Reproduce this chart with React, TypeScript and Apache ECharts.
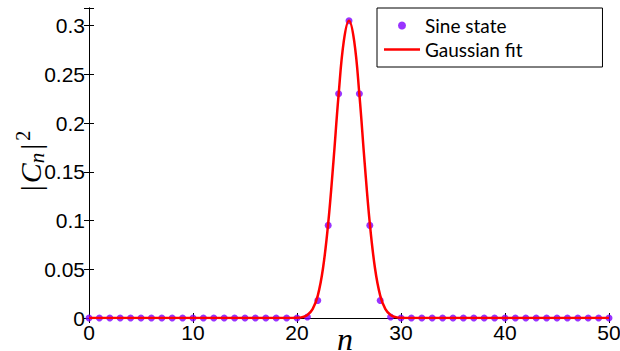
import React, { useEffect, useRef } from "react";
import * as echarts from "echarts";

const sineN: number[] = Array.from({ length: 51 }, (_, i) => i);
const sineValues: number[] = [
  0, 0, 0, 0, 0, 0, 0, 0, 0, 0,
  0, 0, 0, 0, 0, 0, 0, 0, 0, 0,
  0, 0.001, 0.018, 0.095, 0.23, 0.305, 0.23, 0.095, 0.018, 0.001,
  0, 0, 0, 0, 0, 0, 0, 0, 0, 0,
  0, 0, 0, 0, 0, 0, 0, 0, 0, 0,
  0,
];
const fitX: number[] = [0, 19, 20, 20.5, 21, 21.5, 22, 22.5, 23, 23.5, 24, 24.5, 25, 25.5, 26, 26.5, 27, 27.5, 28, 28.5, 29, 29.5, 30, 31, 50];
const fitY: number[] = [0, 0, 0.0002, 0.0009, 0.0031, 0.0091, 0.023, 0.051, 0.097, 0.16, 0.229, 0.284, 0.305, 0.284, 0.229, 0.16, 0.097, 0.051, 0.023, 0.0091, 0.0031, 0.0009, 0.0002, 0, 0];
const xTicks = { min: 0, max: 50, interval: 10 };
const yTicks = { min: 0, max: 0.318, interval: 0.05 };

export default function App() {
  const ref = useRef<HTMLDivElement>(null);
  useEffect(() => {
    if (!ref.current) return;
    const chart = echarts.init(ref.current, null, { renderer: "svg" });
    const axisLine = { show: true, lineStyle: { color: "#000", width: 1 } };
    const tick = { show: true, inside: true, length: 5, lineStyle: { color: "#000" } };
    const labelFont = { color: "#000", fontSize: 21, fontFamily: "'Liberation Sans', Arial, sans-serif" };
    const serif = "'Liberation Serif', serif";
    chart.setOption({
      animation: false,
      backgroundColor: "#fff",
      grid: { left: 89, right: 11, top: 8, bottom: 33, containLabel: false, outerBoundsMode: "none" },
      legend: {
        orient: "vertical",
        left: 377,
        top: 8,
        backgroundColor: "#fff",
        borderColor: "#000",
        borderWidth: 1,
        borderRadius: 0,
        padding: [8, 80, 8, 7],
        itemWidth: 36,
        itemHeight: 8,
        itemGap: 5,
        symbolKeepAspect: true,
        textStyle: { fontSize: 19, fontFamily: "Lato, sans-serif", color: "#000" },
        data: [
          { name: "Sine state", icon: "circle" },
          { name: "Gaussian fit", icon: "path://M0,0L36,0L36,2.5L0,2.5Z" },
        ],
      },
      xAxis: [
        {
          type: "value",
          min: xTicks.min,
          max: xTicks.max,
          interval: xTicks.interval,
          axisLine,
          axisTick: tick,
          splitLine: { show: false },
          axisLabel: { ...labelFont, margin: 4 },
        },
        {
          type: "value",
          position: "top",
          min: xTicks.min,
          max: xTicks.max,
          interval: xTicks.interval,
          axisLine,
          axisTick: tick,
          splitLine: { show: false },
          axisLabel: { show: false },
        },
      ],
      yAxis: [
        {
          type: "value",
          min: yTicks.min,
          max: yTicks.max,
          interval: yTicks.interval,
          axisLine,
          axisTick: tick,
          splitLine: { show: false },
          axisLabel: {
            ...labelFont,
            margin: 4,
            formatter: (v: number) => {
              const k = Math.round(v / 0.05);
              if (Math.abs(k * 0.05 - v) > 1e-6) return "";
              return String(parseFloat((k * 0.05).toFixed(2)));
            },
          },
        },
        {
          type: "value",
          position: "right",
          min: yTicks.min,
          max: yTicks.max,
          interval: yTicks.interval,
          axisLine,
          axisTick: tick,
          splitLine: { show: false },
          axisLabel: { show: false },
        },
      ],
      graphic: [
        {
          type: "text",
          x: 30,
          y: 162,
          rotation: Math.PI / 2,
          style: {
            text: "{b||}{c|C}{s|n}{b||}{p|2}",
            align: "center",
            verticalAlign: "middle",
            fill: "#000",
            rich: {
              b: { fontSize: 30, fontFamily: serif, fill: "#000", padding: [0, 2, 0, 2] },
              c: { fontSize: 30, fontStyle: "italic", fontFamily: serif, fill: "#000" },
              s: { fontSize: 21, fontStyle: "italic", fontFamily: serif, fill: "#000", verticalAlign: "bottom", padding: [12, 1, 0, 0] },
              p: { fontSize: 20, fontFamily: serif, fill: "#000", verticalAlign: "top", padding: [0, 0, 14, 1] },
            },
          },
        },
        {
          type: "text",
          x: 345,
          y: 339,
          style: {
            text: "n",
            align: "center",
            verticalAlign: "middle",
            lineHeight: 16,
            fontSize: 32,
            fontStyle: "italic",
            fontFamily: serif,
            fill: "#000",
          },
        },
      ],
      series: [
        {
          name: "Sine state",
          type: "scatter",
          xAxisIndex: 0,
          yAxisIndex: 0,
          symbol: "circle",
          symbolSize: 7,
          itemStyle: { color: "#7f00ff" },
          data: sineN.map((n, i) => [n, sineValues[i]]),
          z: 2,
        },
        {
          name: "Gaussian fit",
          type: "line",
          xAxisIndex: 0,
          yAxisIndex: 0,
          smooth: 0.4,
          symbol: "none",
          showSymbol: false,
          lineStyle: { color: "#ff0000", width: 2.5 },
          itemStyle: { color: "#ff0000" },
          data: fitX.map((x, i) => [x, fitY[i]]),
          z: 3,
        },
      ],
    });
    return () => chart.dispose();
  }, []);
  return <div ref={ref} style={{ width: 620, height: 351, position: "absolute", left: 0, top: 0 }} />;
}
